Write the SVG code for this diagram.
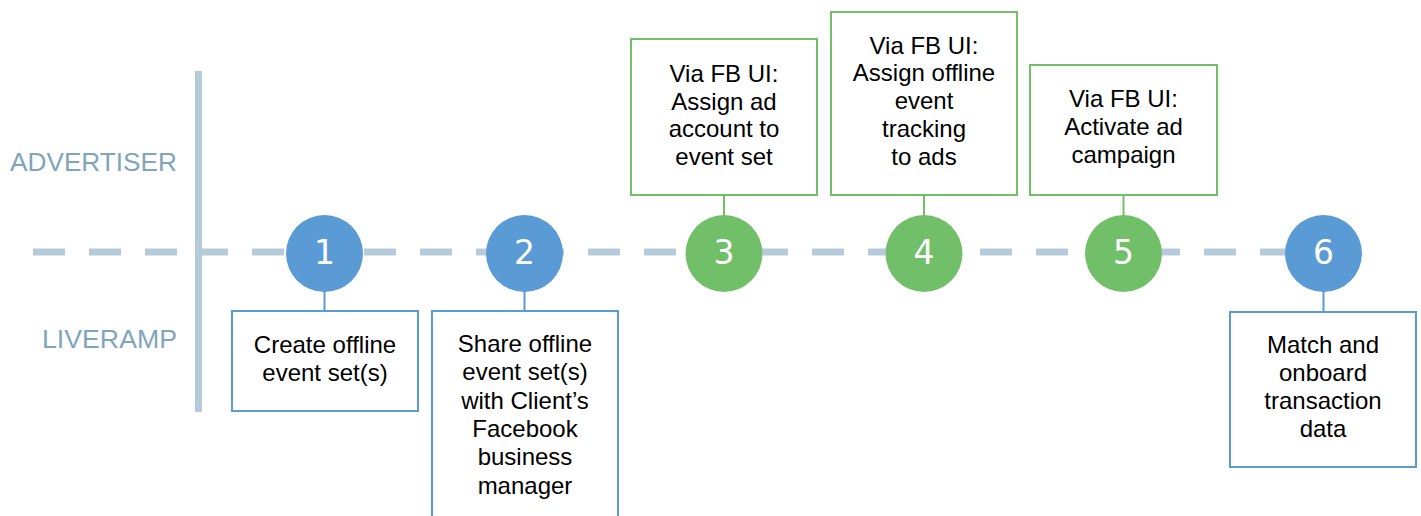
<svg xmlns="http://www.w3.org/2000/svg" width="1421" height="516" viewBox="0 0 1421 516">
<style>
.lane{fill:#7fa5bc;font-family:"Liberation Sans",Arial,sans-serif;font-size:25px}
.track{stroke:#b5cbda;stroke-width:7;fill:none}
.dash{stroke-dasharray:32 24}
.blue{fill:#5b9bd5}
.green{fill:#72bf69}
.boxb{fill:#fff;stroke:#5b9bd5;stroke-width:2}
.boxg{fill:#fff;stroke:#72bf69;stroke-width:2}
.cb{stroke:#5b9bd5;stroke-width:2}
.cg{stroke:#72bf69;stroke-width:2}
.num{fill:#fff;font-family:"DejaVu Sans","Liberation Sans",sans-serif;font-size:33px;text-anchor:middle}
.t{fill:#000;font-family:"Liberation Sans",Arial,sans-serif;font-size:24px;text-anchor:middle}
</style>
<g id="lanes">
<line class="track" x1="198.5" y1="71" x2="198.5" y2="412"/>
<line class="track dash" x1="33" y1="252" x2="180" y2="252"/>
<line class="track dash" x1="196" y1="252" x2="1292" y2="252"/>
<text class="lane" x="177" y="171" text-anchor="end" textLength="167" lengthAdjust="spacingAndGlyphs">ADVERTISER</text>
<text class="lane" x="177" y="348" text-anchor="end" textLength="135" lengthAdjust="spacingAndGlyphs">LIVERAMP</text>
</g>
<g id="connectors">
<line class="cb" x1="324.5" y1="290" x2="324.5" y2="311"/>
<line class="cb" x1="524.5" y1="290" x2="524.5" y2="311"/>
<line class="cg" x1="724" y1="195" x2="724" y2="217"/>
<line class="cg" x1="924" y1="195" x2="924" y2="217"/>
<line class="cg" x1="1123.5" y1="195" x2="1123.5" y2="217"/>
<line class="cb" x1="1323.5" y1="290" x2="1323.5" y2="312"/>
</g>
<g id="node1">
<circle class="blue" cx="324.5" cy="253.5" r="38.5"/>
<text class="num" x="324.5" y="264">1</text>
<rect class="boxb" x="232" y="311" width="186" height="100"/>
<text class="t" x="325" y="353">Create offline</text>
<text class="t" x="325" y="381">event set(s)</text>
</g>
<g id="node2">
<circle class="blue" cx="524.5" cy="253.5" r="38.5"/>
<text class="num" x="524.5" y="264">2</text>
<rect class="boxb" x="432" y="311" width="186" height="215"/>
<text class="t" x="525" y="352">Share offline</text>
<text class="t" x="525" y="380.3">event set(s)</text>
<text class="t" x="525" y="408.6">with Client’s</text>
<text class="t" x="525" y="436.9">Facebook</text>
<text class="t" x="525" y="465.2">business</text>
<text class="t" x="525" y="493.5">manager</text>
</g>
<g id="node3">
<circle class="green" cx="724" cy="253.5" r="38.5"/>
<text class="num" x="724" y="264">3</text>
<rect class="boxg" x="631" y="39" width="186" height="156"/>
<text class="t" x="724" y="82">Via FB UI:</text>
<text class="t" x="724" y="109.7">Assign ad</text>
<text class="t" x="724" y="137.4">account to</text>
<text class="t" x="724" y="165.1">event set</text>
</g>
<g id="node4">
<circle class="green" cx="924" cy="253.5" r="38.5"/>
<text class="num" x="924" y="264">4</text>
<rect class="boxg" x="831" y="12" width="186" height="183"/>
<text class="t" x="924" y="53.5">Via FB UI:</text>
<text class="t" x="924" y="81.4">Assign offline</text>
<text class="t" x="924" y="109.3">event</text>
<text class="t" x="924" y="137.2">tracking</text>
<text class="t" x="924" y="165.1">to ads</text>
</g>
<g id="node5">
<circle class="green" cx="1123.5" cy="253.5" r="38.5"/>
<text class="num" x="1123.5" y="264">5</text>
<rect class="boxg" x="1030" y="65" width="187" height="130"/>
<text class="t" x="1123.5" y="107">Via FB UI:</text>
<text class="t" x="1123.5" y="135">Activate ad</text>
<text class="t" x="1123.5" y="163">campaign</text>
</g>
<g id="node6">
<circle class="blue" cx="1323.5" cy="253.5" r="38.5"/>
<text class="num" x="1323.5" y="264">6</text>
<rect class="boxb" x="1230" y="312" width="186" height="155"/>
<text class="t" x="1323" y="352.5">Match and</text>
<text class="t" x="1323" y="380.5">onboard</text>
<text class="t" x="1323" y="408.5">transaction</text>
<text class="t" x="1323" y="436.7">data</text>
</g>
</svg>
